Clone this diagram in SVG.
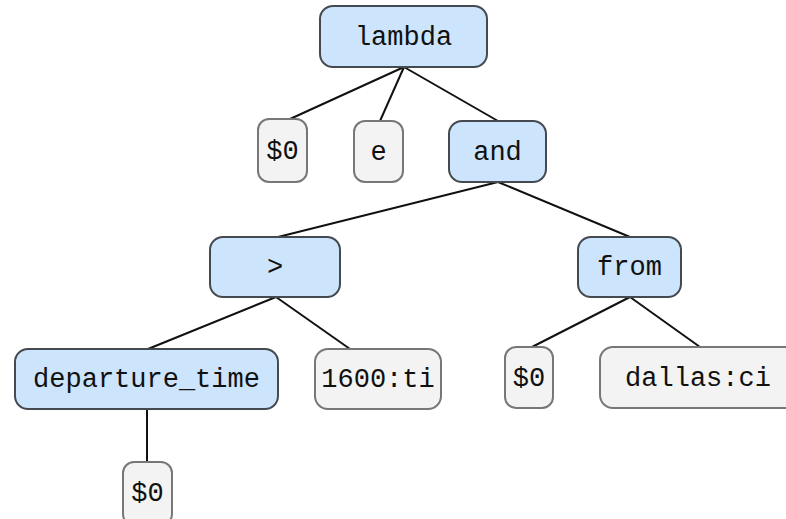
<svg xmlns="http://www.w3.org/2000/svg" width="786" height="519" viewBox="0 0 786 519">
<style>
.b rect{fill:#cce4fc;stroke:#444a50;stroke-width:2}
.g rect{fill:#f3f3f3;stroke:#777;stroke-width:2}
text{font-family:"Liberation Mono","Courier New",monospace;font-size:27px;fill:#111;text-anchor:middle;dominant-baseline:central}
#edges line{stroke:#111;stroke-width:2}
</style>
<rect width="786" height="519" fill="#fff"/>
<g id="edges">
<line x1="404" y1="67" x2="290" y2="119"/>
<line x1="404" y1="67" x2="380" y2="121"/>
<line x1="404" y1="67" x2="498" y2="121"/>
<line x1="498" y1="182" x2="278" y2="237"/>
<line x1="498" y1="182" x2="630" y2="237"/>
<line x1="276" y1="297" x2="148" y2="349"/>
<line x1="276" y1="297" x2="350" y2="349"/>
<line x1="630" y1="297" x2="532" y2="347"/>
<line x1="630" y1="297" x2="700" y2="347"/>
<line x1="147" y1="409" x2="147" y2="462"/>
</g>
<g id="n-lambda" class="b"><rect x="320" y="6" width="167" height="61" rx="13"/><text x="403.5" y="38">lambda</text></g>
<g id="n-s0a" class="g"><rect x="258" y="119" width="49" height="63" rx="11"/><text x="282.5" y="152">$0</text></g>
<g id="n-e" class="g"><rect x="354" y="121" width="49" height="61" rx="11"/><text x="378.5" y="153">e</text></g>
<g id="n-and" class="b"><rect x="449" y="121" width="97" height="61" rx="13"/><text x="497.5" y="153">and</text></g>
<g id="n-gt" class="b"><rect x="210" y="237" width="130" height="60" rx="13"/><text x="275" y="268">&gt;</text></g>
<g id="n-from" class="b"><rect x="578" y="237" width="103" height="60" rx="13"/><text x="629.5" y="268">from</text></g>
<g id="n-dep" class="b"><rect x="15" y="349" width="263" height="60" rx="13"/><text x="146.5" y="380">departure_time</text></g>
<g id="n-1600" class="g"><rect x="315" y="349" width="126" height="60" rx="13"/><text x="378" y="380">1600:ti</text></g>
<g id="n-s0b" class="g"><rect x="505" y="347" width="48" height="61" rx="11"/><text x="529" y="379">$0</text></g>
<g id="n-dallas" class="g"><rect x="600" y="347" width="200" height="61" rx="13"/><text x="698" y="379">dallas:ci</text></g>
<g id="n-s0c" class="g"><rect x="123" y="462" width="49" height="63" rx="11"/><text x="147.5" y="494">$0</text></g>
</svg>
